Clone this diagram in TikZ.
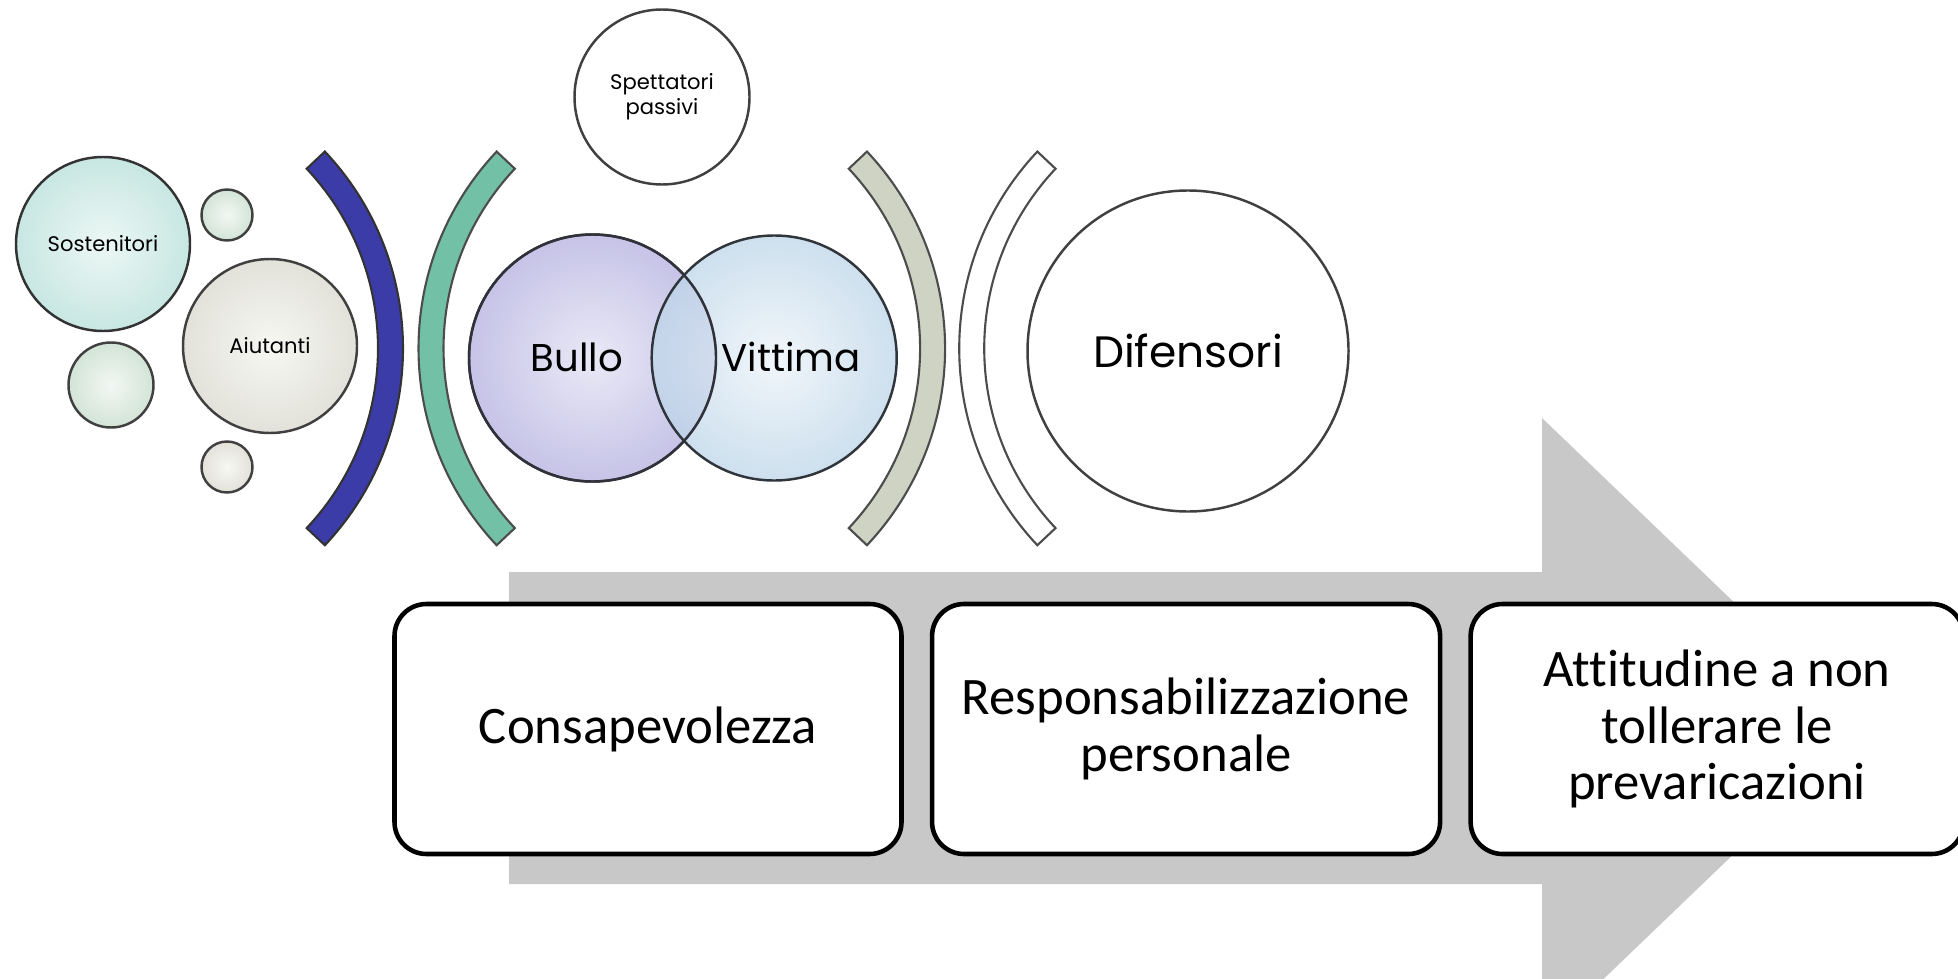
\documentclass[tikz,border=0pt]{standalone}
\usepackage{fontspec}
\setmainfont{Carlito}[Ligatures=CommonOff]
\newfontfamily\comicfont{Poppins}
\usetikzlibrary{positioning,shapes}

\definecolor{arrowgray}{HTML}{C8C8C8}
\definecolor{sostin}{HTML}{ECF7F5}
\definecolor{sostedge}{HTML}{C8E7E2}
\definecolor{greenin}{HTML}{F2F7F3}
\definecolor{greenedge}{HTML}{D3E4D7}
\definecolor{aiutin}{HTML}{F7F7F3}
\definecolor{aiutedge}{HTML}{E2E2DA}
\definecolor{bulloin}{HTML}{E9E9F6}
\definecolor{bulloedge}{HTML}{C6C3E7}
\definecolor{vittin}{HTML}{ECF3F9}
\definecolor{vittedge}{HTML}{BDD5E8}
\definecolor{bandblue}{HTML}{3C3CA8}
\definecolor{bandteal}{HTML}{72C1A6}
\definecolor{bandgray}{HTML}{CFD3C4}

\tikzset{
  bubble/.style={circle, inner sep=0pt, line width=0.7pt, draw=black!75,
    font=\comicfont\fontsize{6}{7}\selectfont, align=center},
  bigbubble/.style={bubble, font=\comicfont\fontsize{12.5}{15}\selectfont},
  stepbox/.style={draw, line width=1.3pt, fill=white, rounded corners=0.32cm,
    minimum height=2.5cm, align=center, font=\fontsize{15}{16}\selectfont},
  band/.style={line width=0.6pt, draw=black!70}
}

\begin{document}
\begin{tikzpicture}
\useasboundingbox (0,0) rectangle (19.58,-9.79);
\clip (0,0) rectangle (19.58,-9.79);

% big gray arrow
\fill[arrowgray] (5.09,-5.72) -- (15.42,-5.72) -- (15.42,-4.18) -- (18.65,-7.28)
  -- (15.42,-10.38) -- (15.42,-8.84) -- (5.09,-8.84) -- cycle;

% bubbles on the left
\node[bubble, minimum size=1.74cm, inner color=sostin, outer color=sostedge, draw=black!80] (sost) at (1.03,-2.44) {Sostenitori};
\node[bubble, minimum size=0.51cm, inner color=greenin, outer color=greenedge] (dotA) at (2.27,-2.15) {};
\node[bubble, minimum size=1.74cm, inner color=aiutin, outer color=aiutedge] (aiut) at (2.70,-3.46) {Aiutanti};
\node[bubble, minimum size=0.85cm, inner color=greenin, outer color=greenedge] (dotB) at (1.11,-3.85) {};
\node[bubble, minimum size=0.51cm, inner color=aiutin, outer color=aiutedge] (dotC) at (2.27,-4.67) {};

% arcs
\draw[band, fill=bandblue, draw=black!80] (1.16,-3.484) ++(-43.3:2.87) arc[start angle=-43.3, end angle=43.3, radius=2.87]
  -- ++(223.3:0.25) arc[start angle=43.3, end angle=-43.3, radius=2.62] -- cycle;
\draw[band, fill=bandteal] (7.055,-3.484) ++(136.7:2.87) arc[start angle=136.7, end angle=223.3, radius=2.87]
  -- ++(43.3:0.25) arc[start angle=223.3, end angle=136.7, radius=2.62] -- cycle;
\draw[band, fill=bandgray] (6.581,-3.484) ++(-43.3:2.87) arc[start angle=-43.3, end angle=43.3, radius=2.87]
  -- ++(223.3:0.25) arc[start angle=43.3, end angle=-43.3, radius=2.62] -- cycle;
\draw[band, fill=white] (12.462,-3.484) ++(136.7:2.87) arc[start angle=136.7, end angle=223.3, radius=2.87]
  -- ++(43.3:0.25) arc[start angle=223.3, end angle=136.7, radius=2.62] -- cycle;

% middle
\node[bubble, minimum size=1.75cm, fill=white] (spett) at (6.62,-0.97) {Spettatori\\passivi};
\node[bigbubble, minimum size=2.47cm, inner color=bulloin, outer color=bulloedge, draw=bulloedge!25!black] (bullo) at (5.925,-3.58) {};
\node[bigbubble, minimum size=2.45cm, inner color=vittin, outer color=vittedge, fill opacity=0.75, draw=vittedge!25!black] (vitt) at (7.742,-3.58) {};
\draw[line width=0.7pt, bulloedge!25!black] (bullo.center) circle[radius=1.235cm];
\node[font=\comicfont\fontsize{11}{13}\selectfont] (bullotxt) at (5.77,-3.57) {Bullo};
\node[font=\comicfont\fontsize{11}{13}\selectfont] (vitttxt) at (7.91,-3.57) {Vittima};
\node[bigbubble, minimum size=3.21cm, fill=white] (dif) at (11.88,-3.51) {Difensori};

% steps
\node[stepbox, minimum width=5.07cm] (consap) at (6.48,-7.29) {Consapevolezza};
\node[stepbox, minimum width=5.08cm, right=0.26cm of consap] (resp) {Responsabilizzazione\\personale};
\node[stepbox, minimum width=4.93cm, right=0.26cm of resp] (attit) {Attitudine a non\\tollerare le\\prevaricazioni};
\end{tikzpicture}
\end{document}
